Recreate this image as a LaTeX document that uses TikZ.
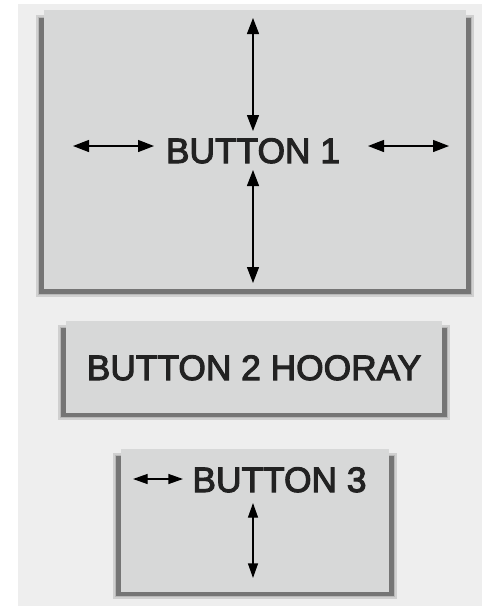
\documentclass[tikz,border=0pt]{standalone}
\usepackage{fontspec}
\setmainfont{Liberation Sans}
\newfontfamily\btnfont[FakeBold=3]{Liberation Sans}
\usetikzlibrary{arrows.meta}
\definecolor{bg}{HTML}{EEEEEE}
\definecolor{face}{HTML}{D7D8D8}
\definecolor{shadow}{HTML}{757575}
\definecolor{ink}{HTML}{222222}
\begin{document}
\begin{tikzpicture}[x=0.75pt,y=-0.75pt,
  facebox/.style={fill=face, draw=none},
  shadowhalo/.style={fill=shadow!45!bg, draw=shadow!25!bg, line width=2pt},
  shadowbox/.style={fill=shadow, draw=none},
  lbl/.style={font=\btnfont\fontsize{26.5}{30}\selectfont, text=ink, inner sep=0pt, anchor=base},
  dbl/.style={line width=1pt, {Triangle[length=12pt,width=9pt]}-{Triangle[length=12pt,width=9pt]}},
  dbls/.style={line width=1pt, {Triangle[length=11pt,width=7.5pt]}-{Triangle[length=11pt,width=7.5pt]}}
]
\useasboundingbox (0,0) rectangle (482,608);
\fill[white] (0,0) rectangle (482,608);
\fill[bg] (18,4) rectangle (482,606);
% Button 1
\path[shadowhalo] (37,16) rectangle (473,296);
\path[shadowbox] (39,18) rectangle (471,294);
\path[facebox] (44,10) rectangle (466,289);
% Button 2
\path[shadowhalo] (59,326) rectangle (449,419);
\path[shadowbox] (61,328) rectangle (447,417);
\path[facebox] (66,321) rectangle (442,413);
% Button 3
\path[shadowhalo] (114,454) rectangle (396,598);
\path[shadowbox] (116,456) rectangle (394,596);
\path[facebox] (121,449) rectangle (389,592);
% labels
\node[lbl] (b1) at (253,163) {BUTTON 1};
\node[lbl] (b2) at (254,380) {BUTTON 2 HOORAY};
\node[lbl] (b3) at (279.5,492) {BUTTON 3};
% arrow ends
\coordinate (v1a) at (253,18);  \coordinate (v1b) at (253,131);
\coordinate (v2a) at (253,170); \coordinate (v2b) at (253,283);
\coordinate (h1a) at (73,146);  \coordinate (h1b) at (154,146);
\coordinate (h2a) at (368,146); \coordinate (h2b) at (449,146);
\coordinate (h3a) at (133,479); \coordinate (h3b) at (183,479);
\coordinate (v3a) at (253,503); \coordinate (v3b) at (253,578);
\draw[dbl] (v1a) -- (v1b);
\draw[dbl] (v2a) -- (v2b);
\draw[dbl] (h1a) -- (h1b);
\draw[dbl] (h2a) -- (h2b);
\draw[dbls] (h3a) -- (h3b);
\draw[dbls] (v3a) -- (v3b);
\end{tikzpicture}
\end{document}
